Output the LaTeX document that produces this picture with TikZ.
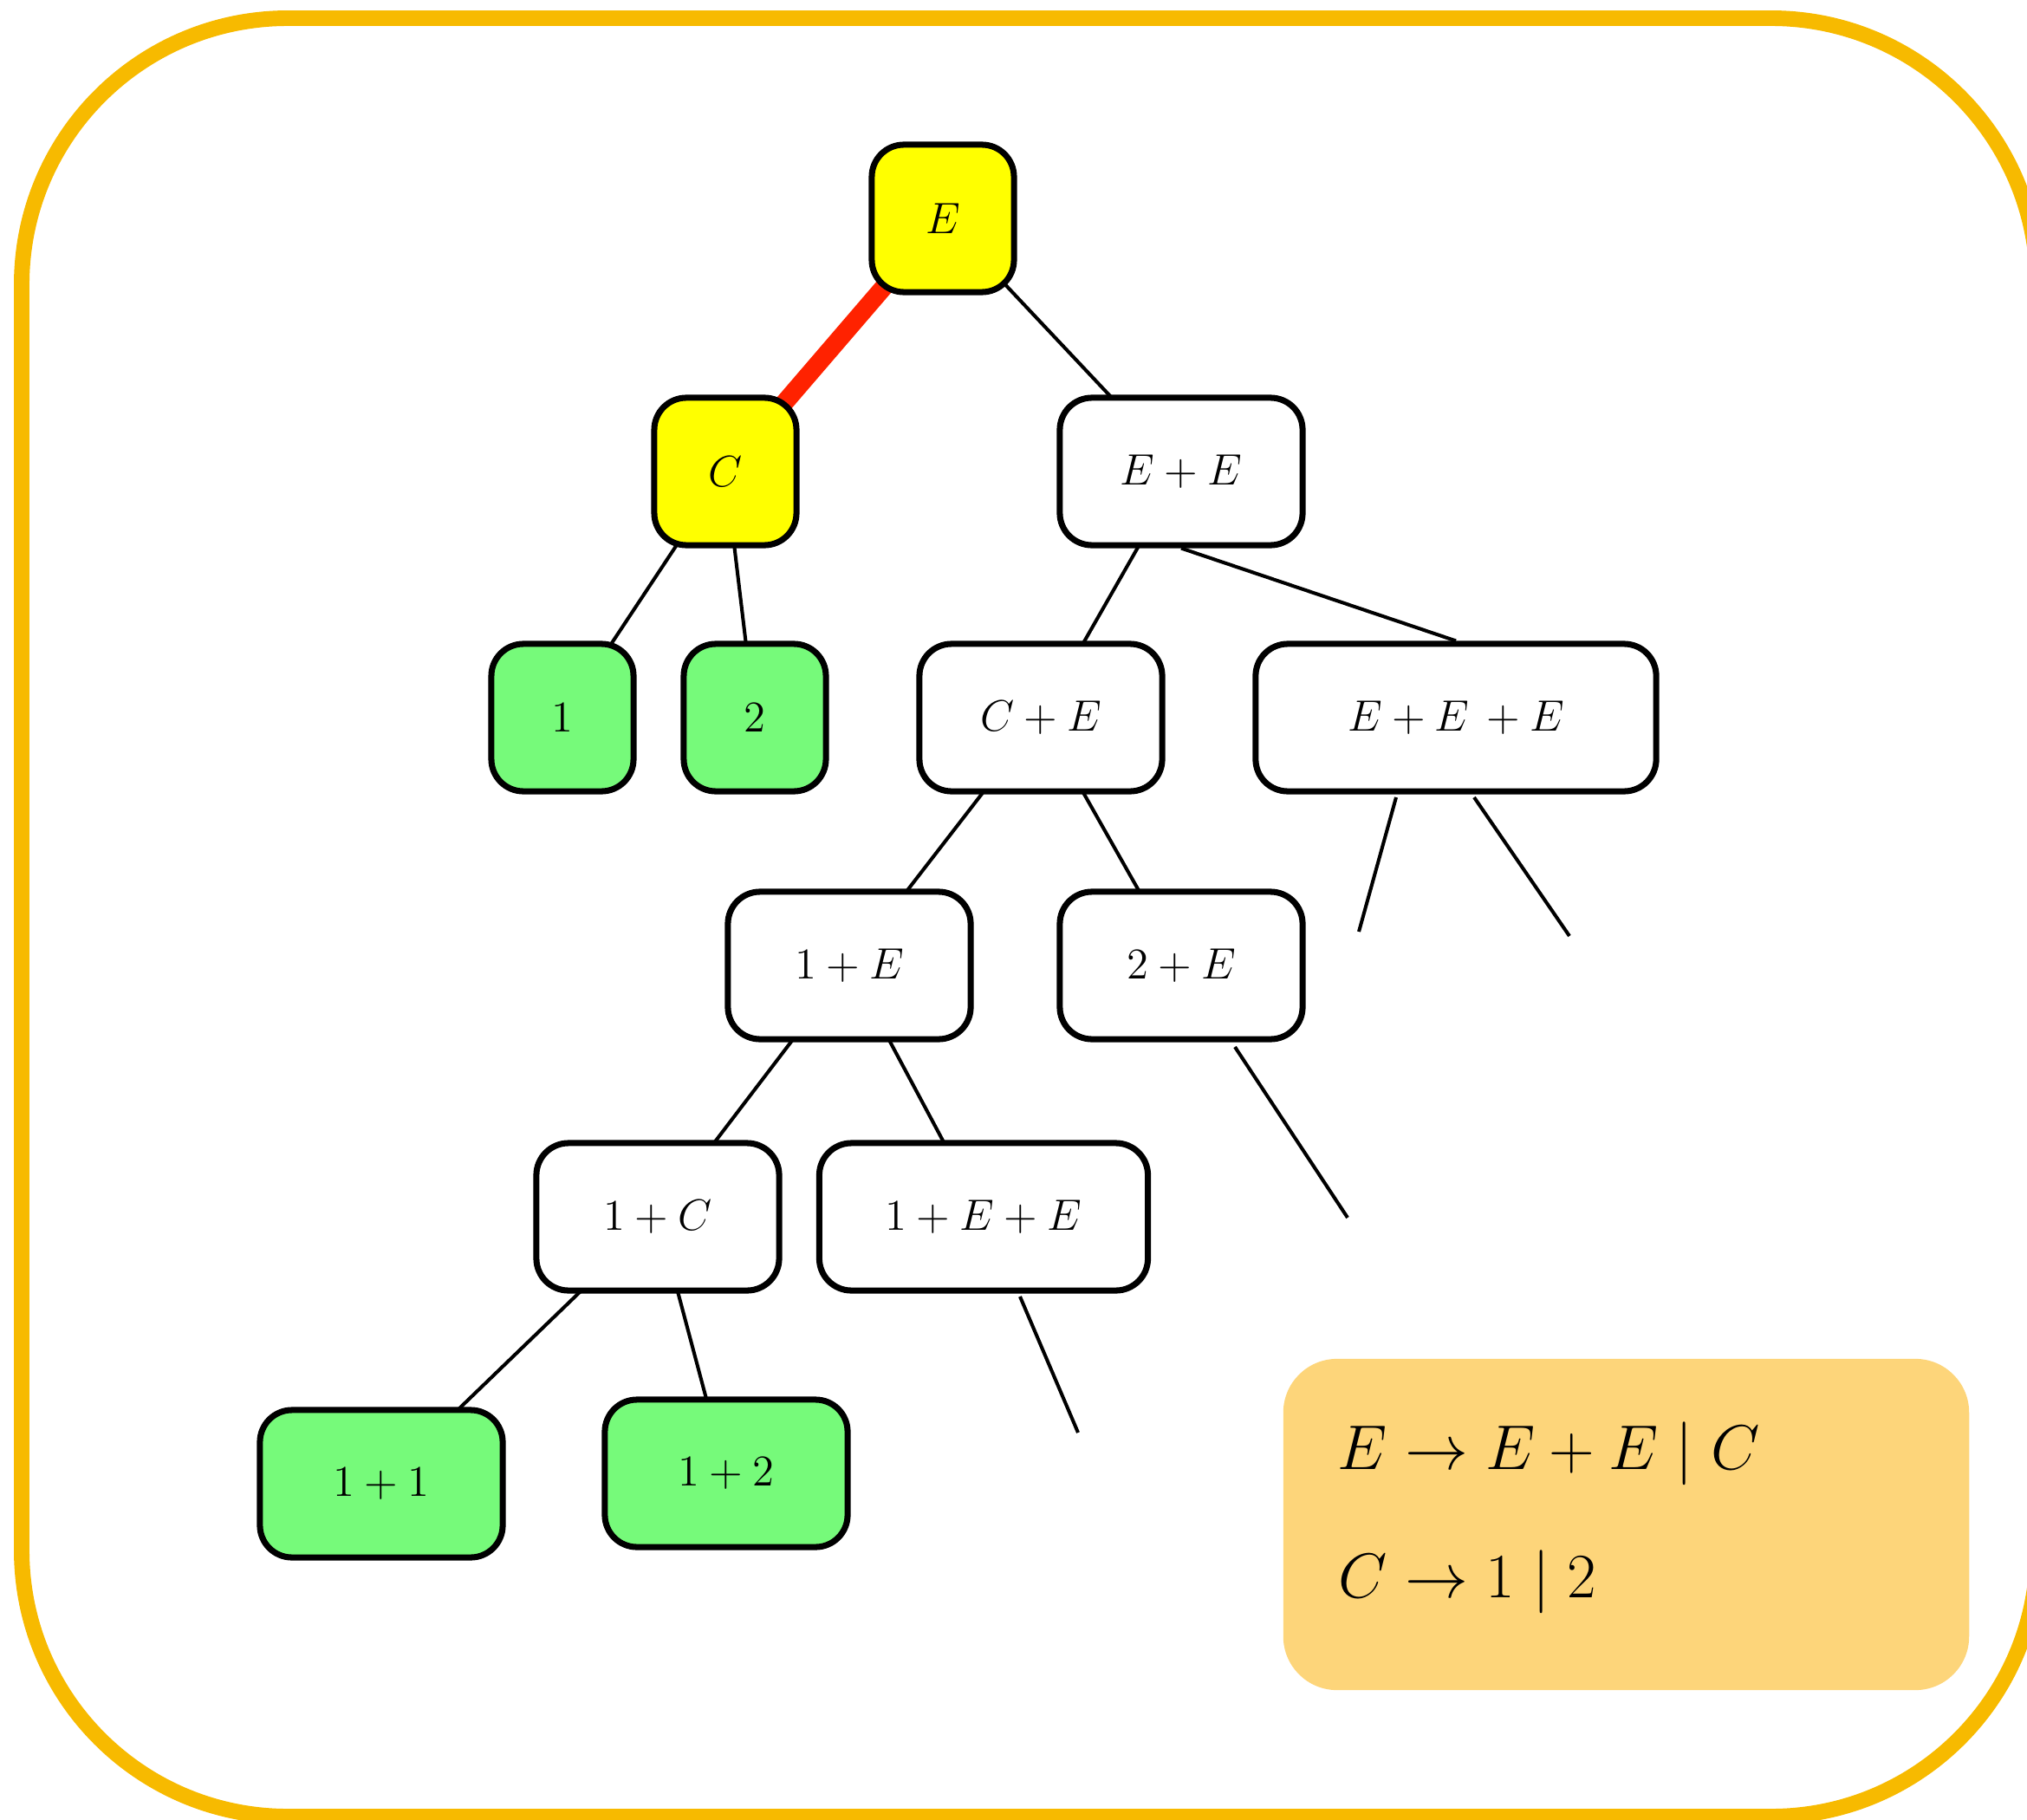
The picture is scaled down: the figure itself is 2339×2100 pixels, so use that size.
\documentclass[tikz,border=0pt]{standalone}
\usetikzlibrary{backgrounds}
\definecolor{framegold}{RGB}{247,186,0}
\definecolor{rootyellow}{RGB}{255,255,0}
\definecolor{leafgreen}{RGB}{118,250,122}
\definecolor{pathred}{RGB}{255,34,0}
\definecolor{rulebg}{RGB}{253,213,122}
\begin{document}
\begin{tikzpicture}[x=0.01cm,y=-0.01cm,
  box/.style={draw=black, line width=2pt, rounded corners=0.37cm, fill=white,
    minimum height=1.70cm, inner sep=0pt, font=\fontsize{14.5}{17}\selectfont},
  narrow/.style={box, minimum width=1.64cm},
  medium/.style={box, minimum width=2.80cm},
  wide/.style={box, minimum width=3.79cm},
  widest/.style={box, minimum width=4.62cm},
  root/.style={fill=rootyellow},
  leaf/.style={fill=leafgreen},
  edge/.style={line width=1.15pt},
  hot/.style={draw=pathred, line width=6pt},
  rulebox/.style={fill=rulebg, rounded corners=0.62cm, minimum width=7.91cm,
    minimum height=3.82cm, inner sep=0pt},
  ruletext/.style={anchor=base west, inner sep=0pt, font=\fontsize{22}{26}\selectfont}
]
\useasboundingbox (0,0) rectangle (2339,2100);
\clip (0,0) rectangle (2339,2100);

% derivation tree
\node[narrow, root] (E) at (1088,252) {$E$};
\node[narrow, root] (C) at (837,544) {$C$};
\node[medium] (EE) at (1363,544) {$E + E$};
\node[narrow, leaf] (n1) at (649,828) {$1$};
\node[narrow, leaf] (n2) at (871,828) {$2$};
\node[medium] (CE) at (1201,828) {$C + E$};
\node[widest] (EEE) at (1680,828) {$E + E\, + E$};
\node[medium] (oneE) at (980,1114) {$1 + E$};
\node[medium] (twoE) at (1363,1114) {$2 + E$};
\node[medium] (oneC) at (759,1404) {$1 + C$};
\node[wide] (oneEE) at (1135,1404) {$1 + E + E$};
\node[medium, leaf] (oneone) at (440,1712) {$1 + 1$};
\node[medium, leaf] (onetwo) at (838,1700) {$1 + 2$};

% open ends of unexpanded branches
\coordinate (a1) at (1611,920);  \coordinate (a2) at (1568,1075);
\coordinate (b1) at (1701,920);  \coordinate (b2) at (1811,1080);
\coordinate (c1) at (1425,1208); \coordinate (c2) at (1555,1405);
\coordinate (d1) at (1177,1496); \coordinate (d2) at (1244,1653);

% grammar
\node[rulebox] (rules) at (1876.5,1759) {};
\node[ruletext] (rule1) at (1543,1695) {$E \to E + E \mathrel{|} C$};
\node[ruletext] (rule2) at (1544,1843) {$C \to 1 \mathrel{|} 2$};

% connectors run centre to centre underneath the filled boxes
\begin{pgfonlayer}{background}
  \draw[framegold, line width=5.1pt, rounded corners=3.07cm] (25,21) rectangle (2351,2096);
  \draw[hot] (E.center) -- (C.center);
  \draw[edge] (E.center) -- (EE.center);
  \draw[edge] (C.center) -- (n1.center);
  \draw[edge] (C.center) -- (n2.center);
  \draw[edge] (EE.center) -- (CE.center);
  \draw[edge] (EE.south) -- (EEE.north);
  \draw[edge] (CE.center) -- (oneE.center);
  \draw[edge] (CE.center) -- (twoE.center);
  \draw[edge] (oneE.center) -- (oneC.center);
  \draw[edge] (oneE.center) -- (oneEE.center);
  \draw[edge] (oneC.center) -- (oneone.center);
  \draw[edge] (oneC.center) -- (onetwo.center);
  \draw[edge] (a1) -- (a2);
  \draw[edge] (b1) -- (b2);
  \draw[edge] (c1) -- (c2);
  \draw[edge] (d1) -- (d2);
\end{pgfonlayer}
\end{tikzpicture}
\end{document}
